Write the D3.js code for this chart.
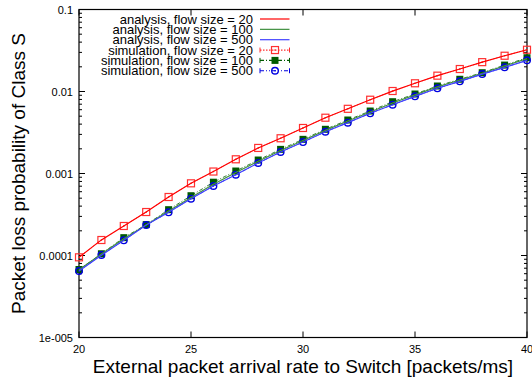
<!DOCTYPE html>
<html>
<head>
<meta charset="utf-8">
<script src="https://cdn.jsdelivr.net/npm/d3@7"></script>
<style>
  body { margin: 0; background: #fff; }
  svg { font-family: "Liberation Sans", Arial, sans-serif; }
</style>
</head>
<body>
<svg id="chart" width="532" height="378"></svg>
<script>
// arrival rate [packets/ms]
var rates = [20,21,22,23,24,25,26,27,28,29,30,31,32,33,34,35,36,37,38,39,40];

// analysis curves
var ana20  = [9.5e-5,1.55e-4,2.29e-4,3.39e-4,5.17e-4,7.59e-4,1.057e-3,1.49e-3,2.05e-3,2.69e-3,3.59e-3,4.79e-3,6.15e-3,7.94e-3,0.0101,0.0126,0.0156,0.0188,0.0228,0.0273,0.0323];
var ana100 = [6.7e-5,1.04e-4,1.6e-4,2.36e-4,3.5e-4,5.1e-4,7.4e-4,1.03e-3,1.41e-3,1.91e-3,2.53e-3,3.36e-3,4.36e-3,5.62e-3,7.25e-3,9.1e-3,0.0114,0.0138,0.0167,0.0205,0.0252];
var ana500 = [6.47e-5,1.01e-4,1.53e-4,2.35e-4,3.36e-4,4.93e-4,7.04e-4,9.67e-4,1.343e-3,1.83e-3,2.42e-3,3.23e-3,4.17e-3,5.42e-3,6.9e-3,8.73e-3,0.01094,0.0133,0.0163,0.0197,0.024];

// simulation points
var sim20  = [9.5e-5,1.545e-4,2.29e-4,3.39e-4,5.17e-4,7.59e-4,1.057e-3,1.49e-3,2.05e-3,2.69e-3,3.59e-3,4.79e-3,6.15e-3,7.94e-3,0.01014,0.0126,0.0156,0.0188,0.0228,0.0273,0.0323];
var sim100 = [6.75e-5,1.05e-4,1.65e-4,2.38e-4,3.62e-4,5.36e-4,7.83e-4,1.072e-3,1.46e-3,1.97e-3,2.61e-3,3.46e-3,4.49e-3,5.78e-3,7.51e-3,9.32e-3,0.01167,0.0141,0.01695,0.021,0.0258];
var sim500 = [6.47e-5,1.014e-4,1.53e-4,2.35e-4,3.36e-4,4.93e-4,7.04e-4,9.67e-4,1.343e-3,1.83e-3,2.42e-3,3.23e-3,4.17e-3,5.42e-3,6.9e-3,8.73e-3,0.01094,0.0133,0.0163,0.0197,0.024];

var xTicks = [20,25,30,35,40];
var yTicks = [1e-5,1e-4,1e-3,1e-2,1e-1];
var yTickLabels = ["1e-005","0.0001","0.001","0.01","0.1"];

var width = 532, height = 378;
var margin = {top: 9.5, right: 5, bottom: 40.5, left: 79};

var svg = d3.select("#chart");

var x = d3.scaleLinear().domain([20, 40]).range([margin.left, width - margin.right]);
var y = d3.scaleLog().domain([1e-5, 0.1]).range([height - margin.bottom, margin.top]);

// minor log ticks
var minor = [];
yTicks.slice(0, -1).forEach(function(d) {
  for (var k = 2; k <= 9; k++) minor.push(d * k);
});

var ax = svg.append("g").attr("class", "axes");

// y ticks left + right (inward)
ax.selectAll(".ytl").data(yTicks).enter().append("line")
  .attr("x1", x(20)).attr("x2", x(20) + 6)
  .attr("y1", function(d) { return y(d); }).attr("y2", function(d) { return y(d); })
  .attr("stroke", "#000");
ax.selectAll(".ytr").data(yTicks).enter().append("line")
  .attr("x1", x(40)).attr("x2", x(40) - 6)
  .attr("y1", function(d) { return y(d); }).attr("y2", function(d) { return y(d); })
  .attr("stroke", "#000");
ax.selectAll(".ymin").data(minor).enter().append("line")
  .attr("x1", x(20)).attr("x2", x(20) + 3)
  .attr("y1", function(d) { return y(d); }).attr("y2", function(d) { return y(d); })
  .attr("stroke", "#000");
ax.selectAll(".yminr").data(minor).enter().append("line")
  .attr("x1", x(40)).attr("x2", x(40) - 3)
  .attr("y1", function(d) { return y(d); }).attr("y2", function(d) { return y(d); })
  .attr("stroke", "#000");

// x ticks bottom + top
ax.selectAll(".xtb").data(xTicks).enter().append("line")
  .attr("x1", function(d) { return x(d); }).attr("x2", function(d) { return x(d); })
  .attr("y1", y(1e-5)).attr("y2", y(1e-5) - 6)
  .attr("stroke", "#000");
ax.selectAll(".xtt").data(xTicks).enter().append("line")
  .attr("x1", function(d) { return x(d); }).attr("x2", function(d) { return x(d); })
  .attr("y1", y(0.1)).attr("y2", y(0.1) + 6)
  .attr("stroke", "#000");

// border
ax.append("rect")
  .attr("x", x(20)).attr("y", y(0.1))
  .attr("width", x(40) - x(20)).attr("height", y(1e-5) - y(0.1))
  .attr("fill", "none").attr("stroke", "#000").attr("stroke-width", 1.2);

// tick labels
ax.selectAll(".ylab").data(yTicks).enter().append("text")
  .attr("x", x(20) - 6).attr("y", function(d) { return y(d) + 4; })
  .attr("text-anchor", "end").attr("font-size", 11)
  .text(function(d, i) { return yTickLabels[i]; });
ax.selectAll(".xlab").data(xTicks).enter().append("text")
  .attr("x", function(d) { return x(d); }).attr("y", y(1e-5) + 15)
  .attr("text-anchor", "middle").attr("font-size", 11)
  .text(function(d) { return d; });

// axis titles
svg.append("text")
  .attr("x", (x(20) + x(40)) / 2).attr("y", 373)
  .attr("text-anchor", "middle").attr("font-size", 19)
  .text("External packet arrival rate to Switch [packets/ms]");
svg.append("text")
  .attr("transform", "translate(25," + ((y(1e-5) + y(0.1)) / 2) + ") rotate(-90)")
  .attr("text-anchor", "middle").attr("font-size", 19)
  .text("Packet loss probability of Class S");

var series = [
  {name: "analysis, flow size = 20",    vals: ana20,  color: "#ff0000", dash: null,        marker: null},
  {name: "analysis, flow size = 100",   vals: ana100, color: "#3f8f3f", dash: null,        marker: null},
  {name: "analysis, flow size = 500",   vals: ana500, color: "#4040ff", dash: null,        marker: null},
  {name: "simulation, flow size = 20",  vals: sim20,  color: "#ff3030", dash: "1.5,1.5",   marker: "square"},
  {name: "simulation, flow size = 100", vals: sim100, color: "#005a00", dash: "4,2,1,2",   marker: "fsquare"},
  {name: "simulation, flow size = 500", vals: sim500, color: "#0000e0", dash: "4,2,1,2,1,2", marker: "circle"}
];

var line = d3.line()
  .x(function(d, i) { return x(rates[i]); })
  .y(function(d) { return y(d); });

var plot = svg.append("g");

function drawMarker(g, type, color, cx, cy) {
  if (type === "square") {
    g.append("rect").attr("x", cx - 3.5).attr("y", cy - 3.5).attr("width", 7).attr("height", 7)
      .attr("fill", "none").attr("stroke", color).attr("stroke-width", 1.2);
    g.append("rect").attr("x", cx - 0.7).attr("y", cy - 0.7).attr("width", 1.4).attr("height", 1.4)
      .attr("fill", color);
  } else if (type === "fsquare") {
    g.append("rect").attr("x", cx - 3.5).attr("y", cy - 3.5).attr("width", 7).attr("height", 7)
      .attr("fill", color);
  } else if (type === "circle") {
    g.append("circle").attr("cx", cx).attr("cy", cy).attr("r", 3.3)
      .attr("fill", "none").attr("stroke", color).attr("stroke-width", 1.4);
    g.append("circle").attr("cx", cx).attr("cy", cy).attr("r", 0.8).attr("fill", color);
  }
}

// simulation lines first, then markers, analysis lines on top
series.slice(3).forEach(function(s) {
  plot.append("path").datum(s.vals).attr("d", line)
    .attr("fill", "none").attr("stroke", s.color).attr("stroke-width", 0.8)
    .attr("stroke-dasharray", s.dash);
});
series.slice(3).forEach(function(s) {
  var g = plot.append("g");
  s.vals.forEach(function(v, i) {
    drawMarker(g, s.marker, s.color, x(rates[i]), y(v));
  });
});
series.slice(0, 3).forEach(function(s) {
  plot.append("path").datum(s.vals).attr("d", line)
    .attr("fill", "none").attr("stroke", s.color).attr("stroke-width", 1.2);
});

// legend
var leg = svg.append("g");
series.forEach(function(s, i) {
  var ly = 19 + i * 10.35;
  leg.append("text")
    .attr("x", 253).attr("y", ly + 4.5)
    .attr("text-anchor", "end").attr("font-size", 13)
    .text(s.name);
  leg.append("line")
    .attr("x1", 260).attr("x2", 289.5).attr("y1", ly).attr("y2", ly)
    .attr("stroke", s.color).attr("stroke-width", 1.2)
    .attr("stroke-dasharray", s.dash);
  if (s.marker) {
    leg.append("line").attr("x1", 260).attr("x2", 260).attr("y1", ly - 2.5).attr("y2", ly + 2.5)
      .attr("stroke", s.color);
    leg.append("line").attr("x1", 289.5).attr("x2", 289.5).attr("y1", ly - 2.5).attr("y2", ly + 2.5)
      .attr("stroke", s.color);
    drawMarker(leg, s.marker, s.color, 275, ly);
  }
});
</script>
</body>
</html>
